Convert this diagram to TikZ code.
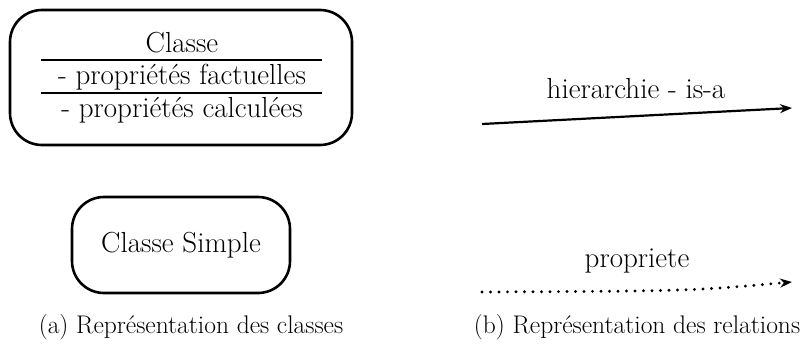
\documentclass[tikz,border=0pt]{standalone}
\usetikzlibrary{arrows.meta}
\begin{document}
\begin{tikzpicture}[x=1pt,y=-1pt,
  txt/.style={font=\fontsize{29}{34}\selectfont, inner sep=0pt},
  captext/.style={font=\fontsize{25.5}{30}\selectfont, inner sep=0pt},
  rbox/.style={draw, line width=2.6pt, rounded corners=32pt},
  rel/.style={line width=2.2pt, -{Stealth[length=12pt,width=9pt]}},
  dotrel/.style={line width=3.2pt, line cap=round, dash pattern=on 0pt off 8.5pt, -{Stealth[length=12pt,width=9pt]}}]
\useasboundingbox (0,0) rectangle (801,343);
% (a)
\draw[rbox] (10,10) rectangle (352,145);
\node[txt] (cl) at (182,43) {Classe};
\draw[line width=1.3pt] (41,60) -- (322,60);
\node[txt] (pf) at (182,77) {- propriétés factuelles};
\draw[line width=1.3pt] (41,93) -- (322,93);
\node[txt] (pc) at (182,110) {- propriétés calculées};
\node[rbox, minimum width=218pt, minimum height=96pt, txt, draw] (cs) at (181,245) {Classe Simple};
\node[captext] (capa) at (191,327) {(a) Représentation des classes};
% (b)
\coordinate (h1) at (482,124);
\coordinate (h2) at (792,108);
\draw[rel] (h1) -- (h2);
\node[txt] (hl) at (636,89) {hierarchie - is-a};
\coordinate (p1) at (482,292);
\coordinate (p2) at (792,282);
\draw[dotrel] (p1) .. controls (690,291) .. (p2);
\node[txt] (pl) at (637,261) {propriete};
\node[captext] (capb) at (637,327) {(b) Représentation des relations};
\end{tikzpicture}
\end{document}
